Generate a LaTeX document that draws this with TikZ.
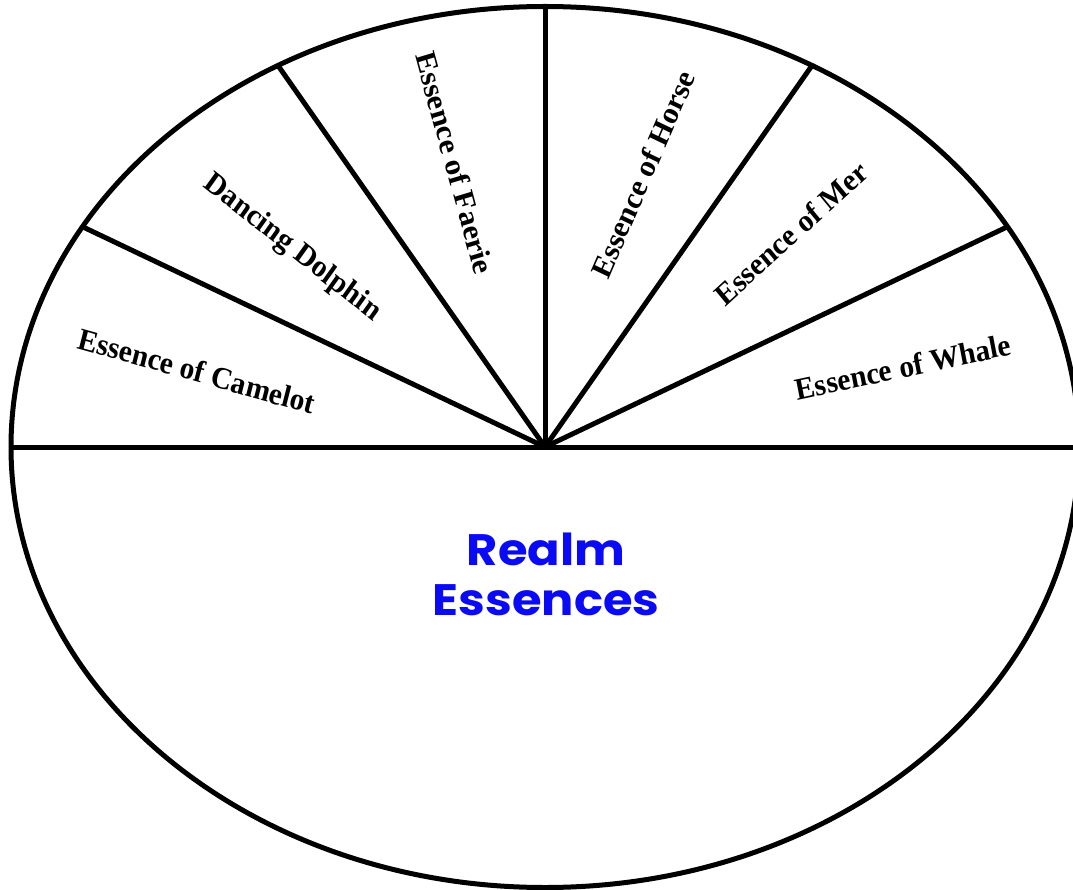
\documentclass[tikz,border=0pt]{standalone}
\usepackage{fontspec}
\setmainfont{Liberation Serif}
\newfontfamily\decofont{Poppins}
\definecolor{realmblue}{RGB}{10,10,245}
\begin{document}
\begin{tikzpicture}[x=1pt,y=-1pt,
  rim/.style={line width=5pt},
  spoke/.style={line width=5pt},
  lbl/.style={font=\fontsize{31}{35}\selectfont\bfseries, inner sep=0pt, xscale=0.95},
  title/.style={font=\decofont\fontsize{44}{50}\selectfont\bfseries, text=realmblue, align=center, inner sep=0pt, xscale=1.09}]
\useasboundingbox (0,0) rectangle (1073,890);
\clip (0,0) rectangle (1073,890);
\fill[white] (0,0) rectangle (1073,890);
\coordinate (c) at (545,447);
\foreach \a in {0,30,60,90,120,150,180}{
  \coordinate (p\a) at ({545+534*cos(\a)},{447-440.5*sin(\a)});
}
\draw[rim] (c) ellipse [x radius=534, y radius=440.5];
\foreach \a in {0,30,60,90,120,150,180}{
  \draw[spoke] (c) -- (p\a);
}
\node[lbl, rotate=-15] (camelot) at (197,371) {Essence of Camelot};
\node[lbl, rotate=-37] (dolphin) at (292,248) {Dancing Dolphin};
\node[lbl, rotate=-74] (faerie) at (455,163) {Essence of Faerie};
\node[lbl, rotate=65.5] (horse) at (643,174) {Essence of Horse};
\node[lbl, rotate=41] (mer) at (791,233) {Essence of Mer};
\node[lbl, rotate=11.5] (whale) at (903,367) {Essence of Whale};
\node[title] (realm) at (546,574) {Realm\\Essences};
\end{tikzpicture}
\end{document}
